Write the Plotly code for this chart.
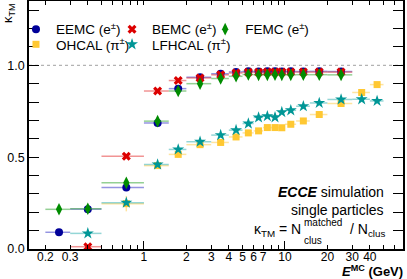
import plotly.graph_objects as go

# ---- data ----
bin_lo = [0.2, 0.3, 0.5, 1.0, 1.5, 2, 3, 4, 5, 6, 7, 8, 9, 10, 12, 15, 20, 30, 40]
bin_hi = [0.3, 0.5, 1.0, 1.5, 2, 3, 4, 5, 6, 7, 8, 9, 10, 12, 15, 20, 30, 40, 50]
centers = [0.25, 0.4, 0.75, 1.25, 1.75, 2.5, 3.5, 4.5, 5.5, 6.5, 7.5, 8.5, 9.5, 11, 13.5, 17.5, 25, 35, 45]

eemc = [0.091, 0.217, 0.335, 0.686, 0.873, 0.935, 0.954, 0.964, 0.967, 0.966, 0.967, 0.967, 0.966, 0.967, 0.966, 0.967, 0.966, None, None]
bemc = [None, 0.0125, 0.505, 0.860, 0.917, 0.931, 0.948, 0.958, 0.962, 0.962, 0.963, 0.963, 0.963, 0.963, 0.963, 0.963, 0.963, None, None]
femc = [0.216, 0.219, 0.360, 0.696, 0.860, 0.900, 0.928, 0.940, 0.950, 0.948, 0.948, 0.949, 0.948, 0.948, 0.949, 0.949, 0.948, None, None]
ohcal = [None, None, 0.247, 0.454, 0.515, 0.568, 0.580, 0.610, 0.632, 0.643, 0.661, 0.661, 0.660, 0.679, 0.697, 0.732, 0.792, 0.852, 0.895]
lfhcal = [None, 0.085, 0.252, 0.460, 0.542, 0.584, 0.620, 0.647, 0.683, 0.716, 0.723, 0.717, 0.745, 0.755, 0.777, 0.795, 0.814, 0.815, 0.806]
ohcal_err = [0, 0, 0.042, 0.006, 0.004, 0.003, 0.003, 0.003, 0.003, 0.003, 0.003, 0.003, 0.003, 0.003, 0.003, 0.003, 0.003, 0.003, 0.003]

x_tickvals = [0.2, 0.3, 1, 2, 3, 4, 5, 6, 7, 10, 20, 30, 40]
x_ticktext = ["0.2", "0.3", "1", "2", "3", "4", "5", "6", "7", "10", "20", "30", "40"]
x_minor = [0.4, 0.5, 0.6, 0.7, 0.8, 0.9, 8, 9, 50, 60]
y_tickvals = [0.0, 0.5, 1.0]
y_ticktext = ["0.0", "0.5", "1.0"]

FONT = "Liberation Sans, Arial, Helvetica, sans-serif"

err_plus = [h - c for h, c in zip(bin_hi, centers)]
err_minus = [c - l for l, c in zip(bin_lo, centers)]

series = [
    ("EEMC (e<sup>±</sup>)", eemc, "rgb(0,0,153)", "rgba(60,60,200,0.55)", "circle", 8, "legend", None),
    ("BEMC (e<sup>±</sup>)", bemc, "rgb(220,0,0)", "rgba(230,60,60,0.55)", "x", 8, "legend2", None),
    ("FEMC (e<sup>±</sup>)", femc, "rgb(0,140,0)", "rgba(60,170,60,0.55)", "diamond-tall", 9, "legend3", None),
    ("OHCAL (π<sup>±</sup>)", ohcal, "rgb(255,200,50)", "rgba(255,205,80,0.55)", "square", 7, "legend4", ohcal_err),
    ("LFHCAL (π<sup>±</sup>)", lfhcal, "rgb(0,150,150)", "rgba(60,180,180,0.55)", "star", 9, "legend5", None),
]

fig = go.Figure()
for name, vals, col, ecol, sym, size, leg, yerr in series:
    xs = [c for c, v in zip(centers, vals) if v is not None]
    ys = [v for v in vals if v is not None]
    ep = [e for e, v in zip(err_plus, vals) if v is not None]
    em = [e for e, v in zip(err_minus, vals) if v is not None]
    ye = [e for e, v in zip(yerr, vals) if v is not None] if yerr else [0.003] * len(ys)
    fig.add_trace(go.Scatter(
        x=xs, y=ys, mode="markers", name=name, legend=leg,
        marker=dict(symbol=sym, size=size, color=col, line=dict(width=0)),
        error_x=dict(type="data", symmetric=False, array=ep, arrayminus=em,
                     color=ecol, thickness=1.5, width=0),
        error_y=dict(type="data", array=ye, color=ecol, thickness=1.5, width=0),
    ))

fig.add_shape(type="line", xref="paper", yref="y", x0=0, x1=1, y0=1, y1=1,
              line=dict(color="rgb(160,160,160)", width=1, dash="dot"), layer="below")

leg_common = dict(orientation="v", xanchor="left", yanchor="top", bgcolor="rgba(0,0,0,0)",
                  font=dict(family=FONT, size=13.5), itemwidth=30, tracegroupgap=0)
row1, row2 = 0.948, 0.887
col1, col2, col3 = -0.0348, 0.222, 0.471

fig.update_layout(
    width=407, height=279,
    margin=dict(l=29, r=4, t=1, b=30, autoexpand=False),
    plot_bgcolor="white", paper_bgcolor="white",
    font=dict(family=FONT, size=12, color="black"),
    showlegend=True,
    legend=dict(x=col1, y=row1, **leg_common),
    legend2=dict(x=col2, y=row1, **leg_common),
    legend3=dict(x=col3, y=row1, **leg_common),
    legend4=dict(x=col1, y=row2, **leg_common),
    legend5=dict(x=col2, y=row2, **leg_common),
    xaxis=dict(type="log", range=[-0.815, 1.837], showgrid=False, zeroline=False,
               tickvals=x_tickvals, ticktext=x_ticktext, ticks="inside", ticklen=4,
               tickcolor="black", showline=True, linecolor="black", linewidth=1.5,
               mirror="allticks", tickfont=dict(size=12), ticklabelstandoff=-4,
               minor=dict(tickvals=x_minor, ticks="inside", ticklen=4, tickcolor="black")),
    yaxis=dict(range=[0, 1.35], showgrid=False, zeroline=False,
               tickvals=y_tickvals, ticktext=y_ticktext, ticks="inside", ticklen=10,
               tickcolor="black", showline=True, linecolor="black", linewidth=1.5,
               mirror="allticks", tickfont=dict(size=12.5),
               minor=dict(dtick=0.1, ticks="inside", ticklen=5, tickcolor="black")),
    xaxis2=dict(type="log", range=[-0.815, 1.837], overlaying="x", side="bottom",
                tickvals=[1, 10], ticks="inside", ticklen=8, showticklabels=False,
                showgrid=False, zeroline=False, tickcolor="black"),
)
# invisible trace to activate xaxis2
fig.add_trace(go.Scatter(x=[1], y=[None], xaxis="x2", showlegend=False, hoverinfo="skip"))

def px(xp):
    return (xp - 29) / 374
def py(yp):
    return (249 - yp) / 248

def note(text, x, y, xanchor, size=14, **kw):
    fig.add_annotation(text=text, x=px(x), y=py(y), xanchor=xanchor, yanchor="middle",
                       xref="paper", yref="paper", showarrow=False,
                       font=dict(family=FONT, size=size, color="black"), **kw)

note("<b><i>ECCE</i></b> simulation", 386, 192, "right")
note("single particles", 386, 210, "right")
note("κ<sub>TM</sub> = N", 303, 230, "right")
note("matched", 302, 222, "left", size=10)
note("clus", 302, 240, "left", size=10)
note("/ N<sub>clus</sub>", 387, 230, "right")
note("<b><i>E</i><sup>MC</sup> (GeV)</b>", 405, 271, "right", size=13)
note("κ<sub>TM</sub>", 9, 13, "center", size=13, textangle=-90)

fig.write_html("out.html", post_script="document.body.style.margin='0px';",
               config={"displayModeBar": False})
